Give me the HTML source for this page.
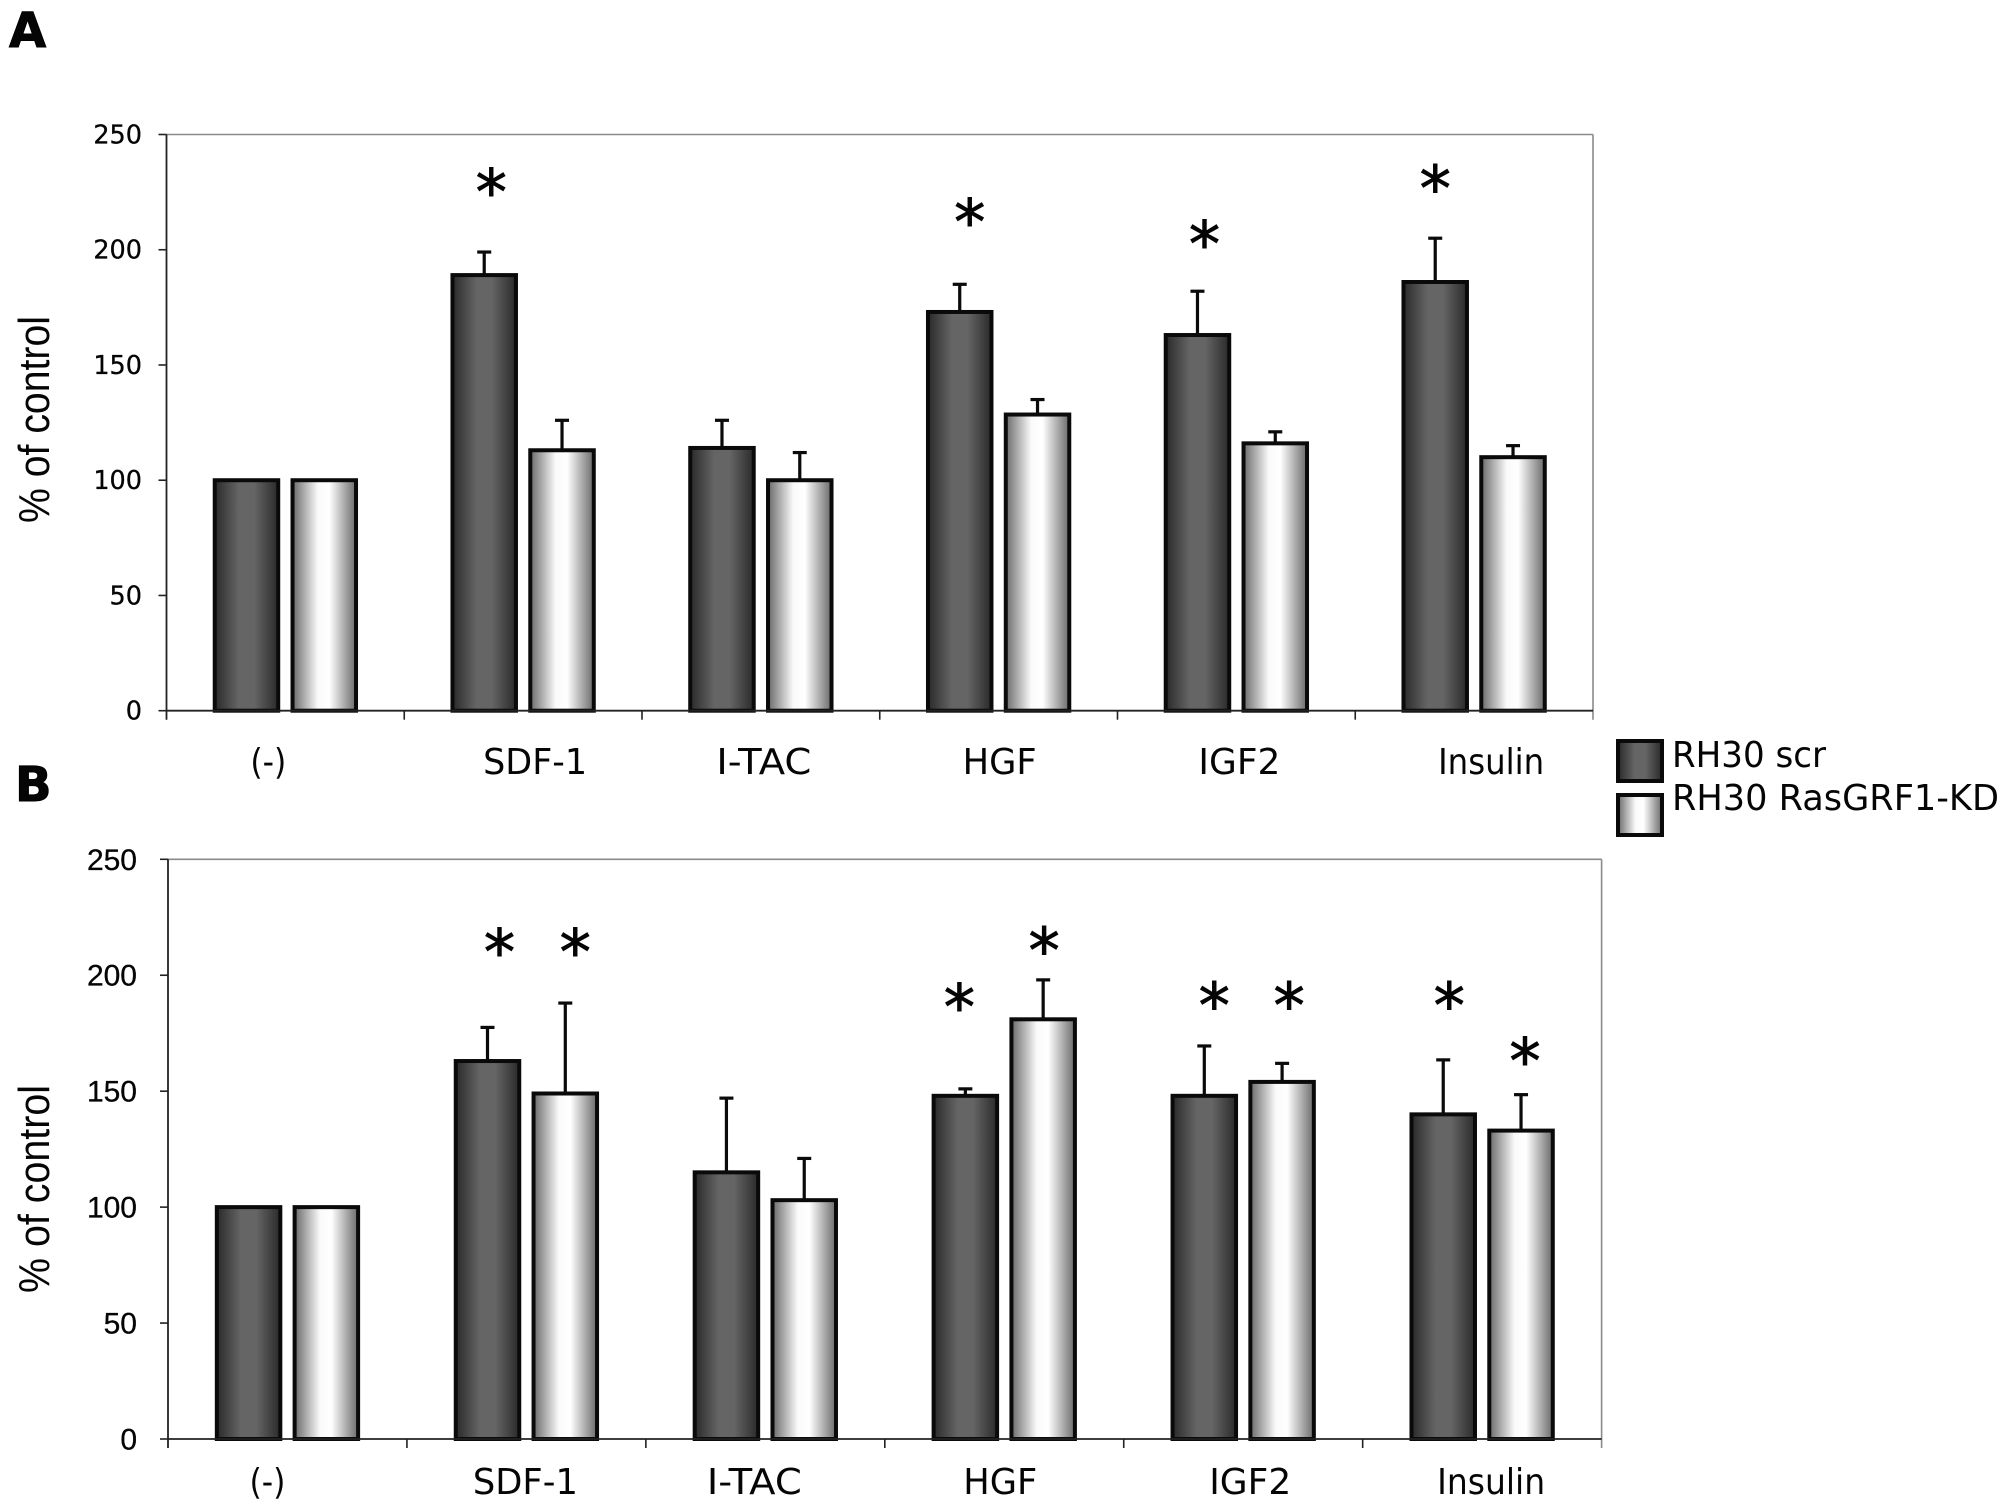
<!DOCTYPE html>
<html lang="en">
<head>
<meta charset="utf-8">
<title>RH30 scr vs RasGRF1-KD, % of control</title>
<style>
html,body{margin:0;padding:0;background:#fff;}
svg{display:block;}
text{fill:#050505;}
.tick{font-family:"DejaVu Sans",sans-serif;font-size:25.5px;text-anchor:end;stroke:#050505;stroke-width:.3px;}
.tickb{font-family:"Liberation Sans",sans-serif;font-size:30px;text-anchor:end;stroke:#050505;stroke-width:.3px;}
.cat{font-family:"DejaVu Sans",sans-serif;font-size:36px;text-anchor:middle;}
.ytitle{font-family:"Liberation Sans",sans-serif;font-size:44px;}
.star{font-family:"DejaVu Sans",sans-serif;font-size:62px;text-anchor:middle;stroke:#050505;stroke-width:1px;}
.letter{font-family:"DejaVu Sans",sans-serif;font-weight:bold;font-size:48px;stroke:#000;stroke-width:1px;}
.legend{font-family:"DejaVu Sans",sans-serif;font-size:36px;}
</style>
</head>
<body>
<svg id="figure" xmlns="http://www.w3.org/2000/svg" width="2008" height="1511" viewBox="0 0 2008 1511">
  <defs>
    <linearGradient id="darkFill" x1="0" y1="0" x2="1" y2="0">
      <stop offset="0" stop-color="#2a2a2a"/><stop offset="0.38" stop-color="#656565"/><stop offset="0.62" stop-color="#656565"/><stop offset="1" stop-color="#2a2a2a"/>
    </linearGradient>
    <linearGradient id="lightFill" x1="0" y1="0" x2="1" y2="0">
      <stop offset="0" stop-color="#6a6a6a"/><stop offset="0.4" stop-color="#fafafa"/><stop offset="0.58" stop-color="#ffffff"/><stop offset="1" stop-color="#6a6a6a"/>
    </linearGradient>
  </defs>
  <rect x="0" y="0" width="2008" height="1511" fill="#fff"/>
  <text class="letter" x="9" y="47">A</text>
  <text class="letter" x="15" y="801">B</text>
  <g id="panelA"></g>
  <g id="panelB"></g>
  <text class="ytitle" transform="translate(49,523) rotate(-90)" textLength="207" lengthAdjust="spacingAndGlyphs">% of control</text>
  <text class="ytitle" transform="translate(49,1293) rotate(-90)" textLength="208" lengthAdjust="spacingAndGlyphs">% of control</text>
  <g>
    <rect x="1618" y="741" width="44" height="40" fill="url(#darkFill)" stroke="#0a0a0a" stroke-width="4"/>
    <text class="legend" x="1672" y="767" textLength="154" lengthAdjust="spacingAndGlyphs">RH30 scr</text>
    <rect x="1618" y="795" width="44" height="40" fill="url(#lightFill)" stroke="#0a0a0a" stroke-width="4"/>
    <text class="legend" x="1672" y="810" textLength="327" lengthAdjust="spacingAndGlyphs">RH30 RasGRF1-KD</text>
  </g>
</svg>
<script>
// Shared axis data
const categories = ["(-)", "SDF-1", "I-TAC", "HGF", "IGF2", "Insulin"];
const yTicks = [0, 50, 100, 150, 200, 250];

// Panel A values (% of control)
const scrA = [100, 189, 114, 173, 163, 186];
const kdA = [100, 113, 100, 128.5, 116, 110];
const scrErrA = [0, 10, 12, 12, 19, 19];
const kdErrA = [0, 13, 12, 6.5, 5, 5];
const starCategoryA = [1, 3, 4, 5];
const starSeriesA = [0, 0, 0, 0];
const starLevelA = [228, 215, 205.5, 229.5];

// Panel B values (% of control)
const scrB = [100, 163, 115, 148, 148, 140];
const kdB = [100, 149, 103, 181, 154, 133];
const scrErrB = [0, 14.5, 32, 3, 21.5, 23.5];
const kdErrB = [0, 39, 18, 17, 8, 15.5];
const starCategoryB = [1, 1, 3, 3, 4, 4, 5, 5];
const starSeriesB = [0, 1, 0, 1, 0, 1, 0, 1];
const starLevelB = [213, 213, 189.3, 213.6, 190, 190, 190, 166];

const NS = "http://www.w3.org/2000/svg";
function mk(parent, tag, attrs, text) {
  const el = document.createElementNS(NS, tag);
  for (const k in attrs) el.setAttribute(k, attrs[k]);
  if (text !== undefined) el.textContent = text;
  parent.appendChild(el);
  return el;
}
function slug(s) {
  return s.toLowerCase().replace(/[^a-z0-9]+/g, "-").replace(/^-|-$/g, "") || "control";
}

function drawPanel(root, cfg) {
  const { id, left, right, top, bottom, scr, kd, scrErr, kdErr, starCat, starSer, starLev, layout } = cfg;
  const yScale = v => bottom - (v / 250) * (bottom - top);
  const band = (right - left) / categories.length;
  const xCenter = i => left + band * (i + 0.5);
  const barW = 63.5;
  const offset = 38.4;
  const barX = (i, s) => xCenter(i) + (s === 0 ? -offset - 0.5 : offset + 0.5);

  // frame
  const topLine = mk(root, "line", { x1: left, x2: right, y1: top, y2: top, stroke: "#8a8a8a", "stroke-width": 1.6 });
  
  
  const rightLine = mk(root, "line", { x1: right, x2: right, y1: top, y2: bottom + 9, stroke: "#8a8a8a", "stroke-width": 1.6 });
  
  

  // y axis
  const yAxis = mk(root, "line", { x1: left, x2: left, y1: top, y2: bottom + 9, stroke: "#222", "stroke-width": 1.8 });
  
  
  yTicks.forEach(t => {
    const y = yScale(t);
    const tk = mk(root, "line", { x1: left - 8, x2: left, y1: y, y2: y, stroke: "#222", "stroke-width": 1.6 });
    
    
    const lb = mk(root, "text", { class: layout.tickClass, x: layout.tickRight, y: y + layout.tickDy }, String(t));
    
    
  });

  // bars and error bars
  [scr, kd].forEach((series, s) => {
    const errs = s === 0 ? scrErr : kdErr;
    const seriesName = s === 0 ? 'scr' : 'kd';
    series.forEach((v, i) => {
      const cx = barX(i, s);
      const yv = yScale(v);
      if (errs[i] > 0) {
        const ye = yScale(v + errs[i]);
        const stem = mk(root, "line", { x1: cx, x2: cx, y1: yv, y2: ye, stroke: "#0a0a0a", "stroke-width": 3.2 });
        
        
        const cap = mk(root, "line", { x1: cx - 7, x2: cx + 7, y1: ye, y2: ye, stroke: "#0a0a0a", "stroke-width": 3.2 });
        
        
      }
      const bar = mk(root, "rect", {
        x: cx - barW / 2, y: yv, width: barW, height: bottom - yv,
        fill: s === 0 ? "url(#darkFill)" : "url(#lightFill)", stroke: "#0a0a0a", "stroke-width": 4
      });
      
      
    });
  });

  // x axis
  const xAxis = mk(root, "line", { x1: left, x2: right, y1: bottom, y2: bottom, stroke: "#222", "stroke-width": 1.8 });
  
  
  for (let i = 1; i < categories.length; i++) {
    const x = left + band * i;
    const tk = mk(root, "line", { x1: x, x2: x, y1: bottom, y2: bottom + 9, stroke: "#222", "stroke-width": 1.6 });
    
    
  }
  categories.forEach((c, i) => {
    const lb = mk(root, "text", {
      class: "cat", x: xCenter(i) + layout.labelNudge[i], y: layout.labelY,
      textLength: layout.labelWidth[i], lengthAdjust: "spacingAndGlyphs"
    }, c);
    
    
  });

  // significance asterisks
  starCat.forEach((c, k) => {
    const st = mk(root, "text", {
      class: "star", x: barX(c, starSer[k]) + layout.starNudge[k], y: yScale(starLev[k]) + 29
    }, "*");
    
    
  });
}

drawPanel(document.getElementById("panelA"), {
  id: "panel-a", left: 166.5, right: 1593, top: 134.5, bottom: 710.7,
  scr: scrA, kd: kdA, scrErr: scrErrA, kdErr: kdErrA,
  starCat: starCategoryA, starSer: starSeriesA, starLev: starLevelA,
  layout: {
    tickClass: "tick", tickRight: 142, tickDy: 9, labelY: 774,
    labelNudge: [-17, 12, 3, 1, 3, 17], labelWidth: [36, 104, 95, 74, 82, 106],
    starNudge: [7, 10, 7, 0]
  }
});
drawPanel(document.getElementById("panelB"), {
  id: "panel-b", left: 168, right: 1601.6, top: 859.3, bottom: 1439,
  scr: scrB, kd: kdB, scrErr: scrErrB, kdErr: kdErrB,
  starCat: starCategoryB, starSer: starSeriesB, starLev: starLevelB,
  layout: {
    tickClass: "tickb", tickRight: 137, tickDy: 10.5, labelY: 1494,
    labelNudge: [-20, -1, -11, -4, 7, 9], labelWidth: [36, 105, 95, 74, 82, 108],
    starNudge: [12, 10, -6, 1, 10, 7, 6, 4]
  }
});
</script>
</body>
</html>
